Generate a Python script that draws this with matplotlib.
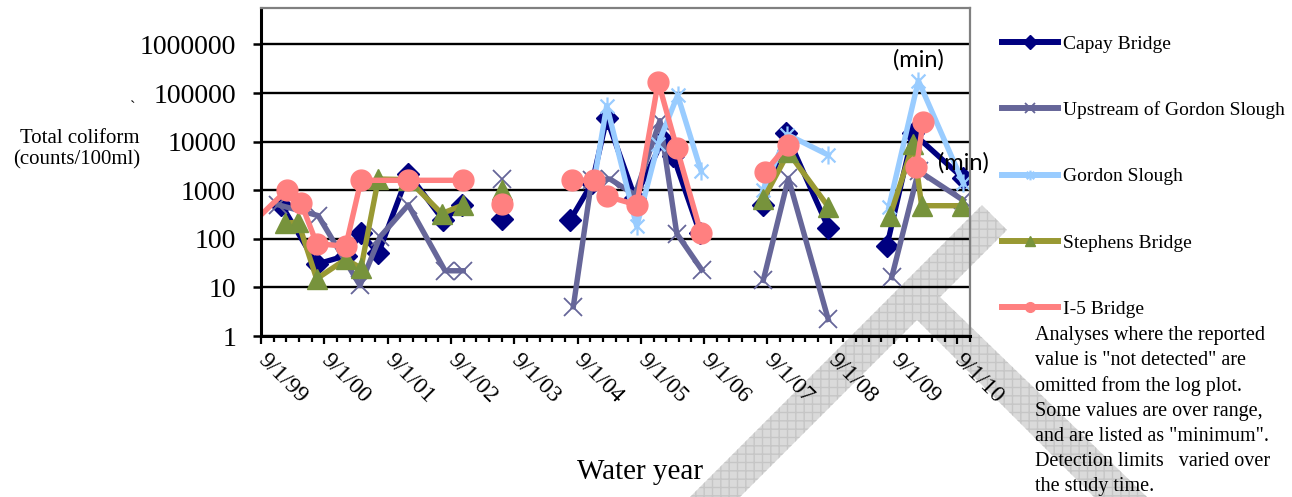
import datetime as dt
import numpy as np
import matplotlib
matplotlib.use('Agg')
import matplotlib.pyplot as plt
import matplotlib.dates as mdates
from matplotlib.lines import Line2D
from matplotlib.patches import Polygon
from matplotlib.path import Path

# --- data (None = gap / value not plotted) ---
capay_dates = ['1999-12-28', '2000-07-18', '2001-01-02', '2001-03-31', '2001-07-09', '2001-12-29',
               '2002-07-19', '2002-11-04', None, '2003-06-21', None,
               '2004-07-19', '2004-11-23', '2005-02-16', '2005-07-29', '2006-01-07', '2006-03-07',
               '2006-08-08', None, '2007-08-08', '2007-12-17', '2008-08-17', None,
               '2009-07-21', '2009-12-19', '2010-10-05']
capay_vals = [500, 30, 45, 130, 50, 2200, 240, 500, None, 250, None,
              240, 1400, 30000, 700, 11000, 5000, 130, None, 500, 15000, 170, None,
              70, 15000, 1750]

upstream_dates = ['1999-12-10', '2000-07-27', '2001-03-25', '2001-07-19', '2001-12-29',
                  '2002-07-29', '2002-11-11', None, '2003-06-21', None,
                  '2004-08-07', '2004-11-21', '2005-03-07', '2005-07-29', '2005-12-20',
                  '2006-03-27', '2006-08-18', None, '2007-08-08', '2007-12-31', '2008-08-17', None,
                  '2009-08-18', '2010-01-20', '2010-10-05']
upstream_vals = [500, 300, 11, 110, 500, 22, 22, None, 1700, None,
                 4, 1600, 1700, 800, 27000, 128, 23, None, 14, 1750, 2.2, None,
                 16, 2500, 620]

gordon_dates = ['2004-07-29', '2004-12-06', '2005-02-16', '2005-08-08', '2005-12-10',
                '2006-04-01', '2006-08-14', None, '2007-08-06', '2007-12-25', '2008-08-17', None,
                '2009-08-02', '2010-01-19', '2010-10-05']
gordon_vals = [1600, 1600, 55000, 180, 9000, 90000, 2500, None, 1000, 14000, 5300, None,
               450, 180000, 1400]
gordon_min = [False, False, False, False, False, False, False, False, False, False, False, False,
              False, True, True]

stephens_dates = ['2000-01-17', '2000-04-03', '2000-07-18', '2001-01-02', '2001-03-31',
                  '2001-07-09', '2001-12-29', '2002-07-10', '2002-11-11', None, '2003-06-21', None,
                  '2007-08-08', '2007-12-31', '2008-08-17', None,
                  '2009-08-08', '2009-12-21', '2010-02-07', '2010-09-25']
stephens_vals = [210, 220, 15, 38, 25, 1700, 1650, 330, 500, None, 1000, None,
                 650, 6000, 460, None, 290, 9000, 480, 480]

i5_dates = ['1999-06-01', '2000-01-27', '2000-04-19', '2000-07-18', '2001-01-02', '2001-03-31',
            '2001-12-29', '2002-11-11', None, '2003-06-21', None,
            '2004-07-29', '2004-12-06', '2005-02-16', '2005-08-08', '2005-12-10', '2006-03-27',
            '2006-08-14', None, '2007-08-18', '2007-12-26', None, '2010-01-08', '2010-02-15']
i5_vals = [150, 1000, 550, 80, 70, 1600, 1600, 1600, None, 520, None,
           1600, 1600, 750, 500, 170000, 7400, 130, None, 2400, 8500, None, 3000, 25000]

station_names = ['Capay Bridge', 'Upstream of Gordon Slough', 'Gordon Slough',
                 'Stephens Bridge', 'I-5 Bridge']
y_ticks = [1, 10, 100, 1000, 10000, 100000, 1000000]
x_tick_labels = ['9/1/99', '9/1/00', '9/1/01', '9/1/02', '9/1/03', '9/1/04',
                 '9/1/05', '9/1/06', '9/1/07', '9/1/08', '9/1/09', '9/1/10']

note = ('Analyses where the reported\n'
        'value is "not detected" are\n'
        'omitted from the log plot.\n'
        'Some values are over range,\n'
        'and are listed as "minimum".\n'
        'Detection limits   varied over\n'
        'the study time.')


def to_xy(dates, vals):
    x = [mdates.datestr2num(d) if d else np.nan for d in dates]
    y = [v if v is not None else np.nan for v in vals]
    return np.array(x), np.array(y)


# excel style asterisk: an x with a vertical bar
star = Path([(-1, -1), (1, 1), (-1, 1), (1, -1), (0, -1.3), (0, 1.3)],
            [Path.MOVETO, Path.LINETO, Path.MOVETO, Path.LINETO, Path.MOVETO, Path.LINETO])

styles = [
    dict(color='#000080', marker='D', ms=11, mfc='#000080', mec='#000080', mew=1),
    dict(color='#666699', marker='x', ms=13, mfc='none', mec='#666699', mew=1.3),
    dict(color='#99CCFF', marker=star, ms=13, mfc='none', mec='#99CCFF', mew=1.6),
    dict(color='#999933', marker='^', ms=14, mfc='#77933C', mec='#77933C', mew=1),
    dict(color='#FF8080', marker='o', ms=15, mfc='#FF8080', mec='#FF8080', mew=1),
]
series = [(capay_dates, capay_vals), (upstream_dates, upstream_vals),
          (gordon_dates, gordon_vals), (stephens_dates, stephens_vals),
          (i5_dates, i5_vals)]

serif = 'Liberation Serif'
W, H = 1292, 497
fig = plt.figure(figsize=(W / 100, H / 100), dpi=100)
fig.patch.set_facecolor('white')


def fx(px):
    return px / W


def fy(py):
    return 1 - py / H


# watermark behind the chart (pixel outline of the grey "T" strokes)
band1 = [(982, 205), (1007, 230), (740, 497), (690, 497)]
band2 = [(910, 277), (940, 297), (1147, 497), (1094, 497), (917, 320)]
for pts in (band1, band2):
    poly = Polygon([(fx(a), fy(b)) for a, b in pts], closed=True, transform=fig.transFigure,
                   facecolor='#dadada', edgecolor='#c6c6c6', hatch='++', lw=0, zorder=-5)
    fig.add_artist(poly)

ax = fig.add_axes([fx(261), fy(336), fx(970) - fx(261), fy(8) - fy(336)])
ax.patch.set_alpha(0)

for (d, v), st, name in zip(series, styles, station_names):
    x, y = to_xy(d, v)
    ax.plot(x, y, lw=3.9, label=name, solid_joinstyle='round', **st)

# "(min)" flags on over-range values
gx, gy = to_xy(gordon_dates, gordon_vals)
for xx, yy, flag in zip(gx, gy, gordon_min):
    if flag:
        ax.annotate('(min)', xy=(xx, yy), xytext=(0, 7), textcoords='offset points',
                    ha='center', va='bottom', fontsize=17, family='Lato',
                    annotation_clip=False)

ax.set_yscale('log')
ax.set_ylim(1, 10 ** 6.75)
ax.set_yticks(y_ticks)
ax.set_yticklabels([str(t) for t in y_ticks], fontsize=20, family=serif)
ax.yaxis.set_minor_locator(matplotlib.ticker.NullLocator())
ax.yaxis.grid(True, color='black', lw=1.7)
ax.set_axisbelow(True)

start = dt.datetime(1999, 9, 1)
end = dt.datetime(2010, 11, 13)
ax.set_xlim(mdates.date2num(start), mdates.date2num(end))
major = [dt.datetime(1999 + i, 9, 1) for i in range(len(x_tick_labels))]
minor = []
for a, b in zip(major[:-1], major[1:]):
    minor += [a + (b - a) * k / 5 for k in range(1, 5)]
minor.append(end)
ax.set_xticks(mdates.date2num(major))
ax.set_xticks(mdates.date2num(minor), minor=True)
ax.set_xticklabels(x_tick_labels, fontsize=17, family=serif)
for lbl in ax.get_xticklabels():
    lbl.set_rotation(-45)
    lbl.set_ha('left')
    lbl.set_va('center')
    lbl.set_rotation_mode('anchor')

ax.tick_params(axis='x', which='major', length=6, width=1.6, pad=9, colors='black')
ax.tick_params(axis='x', which='minor', length=4, width=1.6)
ax.tick_params(axis='y', length=6, width=1.8, pad=12)

for side in ('top', 'right'):
    ax.spines[side].set_color('#808080')
    ax.spines[side].set_linewidth(1.6)
for side in ('left', 'bottom'):
    ax.spines[side].set_color('black')
    ax.spines[side].set_linewidth(2.2)

# legend with small markers
handles = []
for st in styles:
    h = Line2D([], [], lw=4.3, color=st['color'], marker=st['marker'], ms=7,
               mfc=st['mfc'], mec=st['mec'], mew=st['mew'])
    handles.append(h)
ax.legend(handles, station_names, loc='upper left', bbox_to_anchor=(fx(1002), fy(35)),
          bbox_transform=fig.transFigure, frameon=False, prop={'family': serif, 'size': 14},
          handlelength=2.9, handletextpad=0.25, labelspacing=2.5, borderpad=0, borderaxespad=0)

fig.text(fx(1035), fy(326), note, ha='left', va='top', fontsize=14.5, family=serif, linespacing=1.42)
fig.text(fx(140), fy(149), 'Total coliform\n(counts/100ml)', ha='right', va='center',
         multialignment='right', fontsize=15, family=serif, linespacing=1.15)
fig.text(fx(133), fy(108), '`', ha='center', va='center', fontsize=12, family=serif)
fig.text(fx(640), fy(472), 'Water year', ha='center', va='center', fontsize=21, family=serif)

fig.savefig('out.png', dpi=100)
